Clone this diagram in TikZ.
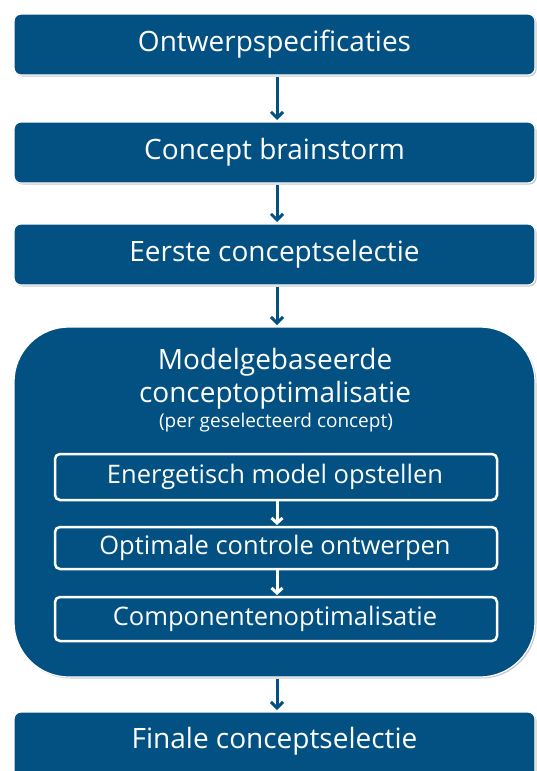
\documentclass[tikz,border=0pt]{standalone}
\usepackage{fontspec}
\setmainfont{Open Sans}
\usetikzlibrary{arrows.meta,shadows}
\definecolor{dblue}{RGB}{2,81,130}
\begin{document}
\begin{tikzpicture}[x=1pt,y=-1pt,
  outer/.style={fill=dblue,draw=white,line width=1.2pt,rounded corners=7pt,
    drop shadow={shadow xshift=1.5pt,shadow yshift=-1.5pt,opacity=0.35,fill=black!60}},
  inner/.style={draw=white,line width=2.5pt,rounded corners=5pt,fill=dblue},
  lab/.style={text=white,font=\fontsize{28}{32}\selectfont,inner sep=0pt},
  ilab/.style={text=white,font=\fontsize{25.5}{28}\selectfont,inner sep=0pt},
  barrow/.style={draw=dblue,line width=3pt,-{Straight Barb[length=6pt,width=12pt,line width=3pt]}},
  warrow/.style={draw=white,line width=3pt,-{Straight Barb[length=5pt,width=11pt,line width=3pt]}}]
\useasboundingbox (0,0) rectangle (536,771);
\fill[white] (0,0) rectangle (536,771);
% boxes
\path[outer] (14,14) rectangle (535,75);
\node[lab] (b1) at (274.5,44.5) {Ontwerpspecificaties};
\coordinate (b1s) at (277,77);
\path[outer] (14,122) rectangle (535,183);
\node[lab] (b2) at (274.5,152.5) {Concept brainstorm};
\coordinate (b2n) at (277,120);
\coordinate (b2s) at (277,185);
\path[outer] (14,224) rectangle (535,285);
\node[lab] (b3) at (274.5,254.5) {Eerste conceptselectie};
\coordinate (b3n) at (277,222);
\coordinate (b3s) at (277,287);
\path[outer,rounded corners=55pt] (14,327) rectangle (535,677);
\coordinate (b4n) at (277,325);
\coordinate (b4s) at (277,679);
\node[lab] (t1) at (275,362) {Modelgebaseerde};
\node[lab] (t2) at (275,395) {conceptoptimalisatie};
\node[text=white,font=\fontsize{19}{22}\selectfont,inner sep=0pt] (t3) at (276,423) {(per geselecteerd concept)};
% inner boxes
\path[inner] (55,454) rectangle (497,500);
\node[ilab] (i1) at (275,477) {Energetisch model opstellen};
\path[inner] (55,527) rectangle (497,569);
\node[ilab] (i2) at (275,548) {Optimale controle ontwerpen};
\path[inner] (55,597) rectangle (497,641);
\node[ilab] (i3) at (275,619) {Componentenoptimalisatie};
\coordinate (i1s) at (277,501);
\coordinate (i2n) at (277,525);
\coordinate (i2s) at (277,570);
\coordinate (i3n) at (277,595);
\path[outer] (14,712) rectangle (535,790);
\node[lab] (b5) at (274.5,741) {Finale conceptselectie};
\coordinate (b5n) at (277,710);
% arrows
\draw[barrow] (b1s) -- (b2n);
\draw[barrow] (b2s) -- (b3n);
\draw[barrow] (b3s) -- (b4n);
\draw[barrow] (b4s) -- (b5n);
\draw[warrow] (i1s) -- (i2n);
\draw[warrow] (i2s) -- (i3n);
\end{tikzpicture}
\end{document}
